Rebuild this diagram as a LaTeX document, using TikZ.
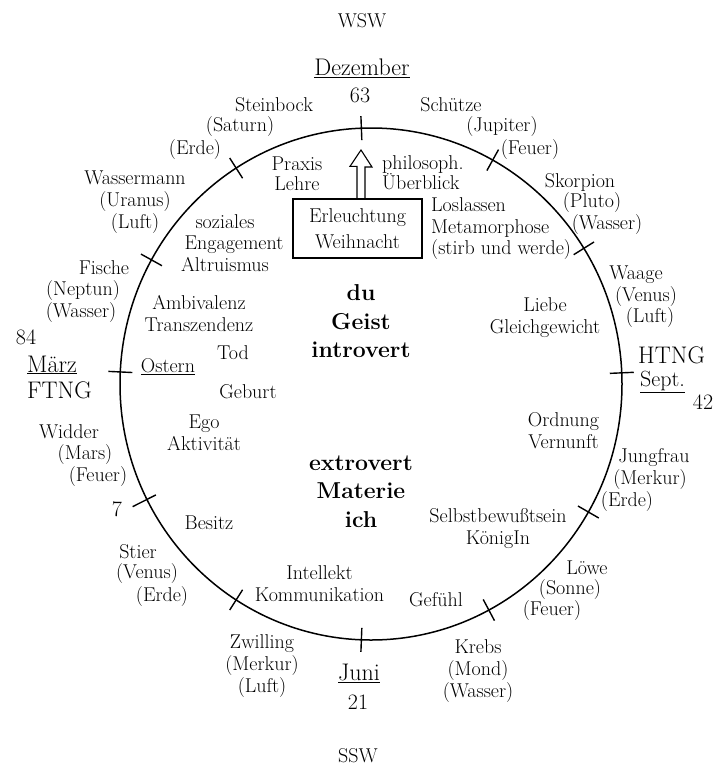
\documentclass[tikz,border=0pt]{standalone}
\usepackage{fontspec}
\begin{document}
\begin{tikzpicture}[x=1pt,y=-1pt,
  lab/.style={font=\fontsize{20}{22}\selectfont, inner sep=0pt, align=center},
  labL/.style={font=\fontsize{20}{21.5}\selectfont, inner sep=0pt, align=left},
  big/.style={font=\fontsize{24}{26}\selectfont, inner sep=0pt},
  num/.style={font=\fontsize{22}{24}\selectfont, inner sep=0pt},
  core/.style={font=\fontsize{23}{28.5}\selectfont\bfseries, inner sep=0pt, align=center},
  ring/.style={line width=1.5pt},
  tickmark/.style={line width=1.4pt},
  framebox/.style={draw, line width=1.3pt, minimum width=129pt, minimum height=59pt, inner sep=0pt, align=center, font=\fontsize{20}{26}\selectfont},
  hollow/.style={line width=1.1pt, line join=miter}
]
\useasboundingbox[fill=white] (0,0) rectangle (716,766);

% ring and ticks
\draw[ring] (371,384) ellipse [x radius=251pt, y radius=256pt];
\foreach \a in {92.2,61,32,2.5,330,298,267.8,237.5,151,122.5,177.3}
  \draw[tickmark] ({371+239*cos(\a)},{384-244*sin(\a)}) -- ({371+263*cos(\a)},{384-268*sin(\a)});
\draw[tickmark] ({371+241*cos(206.8)},{384-246*sin(206.8)}) -- ({371+267*cos(206.8)},{384-272*sin(206.8)});

% cardinal labels
\node[lab] (wsw) at (362,21) {WSW};
\node[big] (dez) at (362,68) {\underline{Dezember}};
\node[num] (n63) at (360,95) {63};
\node[num] (n84) at (26,337) {84};
\node[big,anchor=west] (maerz) at (27,365) {\underline{März}};
\node[big,anchor=west] (ftng) at (27,390) {FTNG};
\node[big,anchor=west] (htng) at (638,355) {HTNG};
\node[big,anchor=west,font=\fontsize{22}{24}\selectfont] (sept) at (640,382) {\underline{Sept.}};
\node[num] (n42) at (703,402) {42};
\node[num] (n7) at (117,509) {7};
\node[big] (juni) at (359,673) {\underline{Juni}};
\node[num] (n21) at (358,702) {21};
\node[lab] (ssw) at (358,756) {SSW};

% zodiac signs
\node[lab] (stb1) at (274,105) {Steinbock};
\node[lab] (stb2) at (240,127) {(Saturn)};
\node[lab] (stb3) at (195,150) {(Erde)};
\node[lab] (sch1) at (451,105) {Schütze};
\node[lab] (sch2) at (502,127) {(Jupiter)};
\node[lab] (sch3) at (530,150) {(Feuer)};
\node[lab] (wam) at (135,202.5) {Wassermann\\(Uranus)\\(Luft)};
\node[lab] (sko1) at (580,182) {Skorpion};
\node[lab] (sko2) at (592,203) {(Pluto)};
\node[lab] (sko3) at (607,225) {(Wasser)};
\node[lab] (fis1) at (104,268) {Fische};
\node[lab] (fis2) at (83,291) {(Neptun)};
\node[lab] (fis3) at (81,313) {(Wasser)};
\node[lab] (waa1) at (636,275) {Waage};
\node[lab] (waa2) at (646,297) {(Venus)};
\node[lab] (waa3) at (650,318) {(Luft)};
\node[lab] (wid1) at (69,432) {Widder};
\node[lab] (wid2) at (85,455) {(Mars)};
\node[lab] (wid3) at (98,477) {(Feuer)};
\node[lab] (jun1) at (654,458) {Jungfrau};
\node[lab] (jun2) at (650,480) {(Merkur)};
\node[lab] (jun3) at (627,502) {(Erde)};
\node[lab] (sti1) at (138,552) {Stier};
\node[lab] (sti2) at (147,574) {(Venus)};
\node[lab] (sti3) at (162,597) {(Erde)};
\node[lab] (loe1) at (587,568) {Löwe};
\node[lab] (loe2) at (570,590) {(Sonne)};
\node[lab] (loe3) at (552,611) {(Feuer)};
\node[lab] (zwi) at (262,666.5) {Zwilling\\(Merkur)\\(Luft)};
\node[lab] (kre) at (478,671) {Krebs\\(Mond)\\(Wasser)};

% inner labels
\node[framebox] (box) at (357.5,228.5) {Erleuchtung\\Weihnacht};
\coordinate (tip) at (361,150);
\draw[hollow] ([xshift=-4pt]box.north -| tip) -- ++(0,-32) -- ++(-7,0) -- (tip) -- ++(11,17) -- ++(-7,0) -- ++(0,32);
\node[lab,font=\fontsize{20}{19.5}\selectfont] (prax) at (297,173.5) {Praxis\\Lehre};
\node[labL,anchor=west,font=\fontsize{20}{20}\selectfont] (phil) at (382,173) {philosoph.\\Überblick};
\node[labL,anchor=west] (losl) at (431,229) {Loslassen\\Metamorphose\\(stirb und werde)};
\node[lab,font=\fontsize{20}{21.5}\selectfont] (soz) at (225,243) {soziales\\\hspace*{18pt}Engagement\\Altruismus};
\node[lab] (amb) at (199,314) {Ambivalenz\\Transzendenz};
\node[lab] (tod) at (233,353) {Tod};
\node[lab] (ost) at (168,367) {\underline{Ostern}};
\node[lab] (geb) at (248,392) {Geburt};
\node[lab] (ego) at (204,432.5) {Ego\\Aktivität};
\node[lab] (bes) at (209,523) {Besitz};
\node[lab] (int) at (319.5,584) {Intellekt\\Kommunikation};
\node[lab] (gef) at (436,600) {Gefühl};
\node[lab] (selb) at (498,528.5) {Selbstbewußtsein\\KönigIn};
\node[lab] (ord) at (563.5,431) {Ordnung\\Vernunft};
\node[lab] (lieb) at (545,317.5) {Liebe\\Gleichgewicht};
\node[core] (geist) at (361,321.5) {du\\Geist\\introvert};
\node[core] (mat) at (361,491.5) {extrovert\\Materie\\ich};
\end{tikzpicture}
\end{document}
